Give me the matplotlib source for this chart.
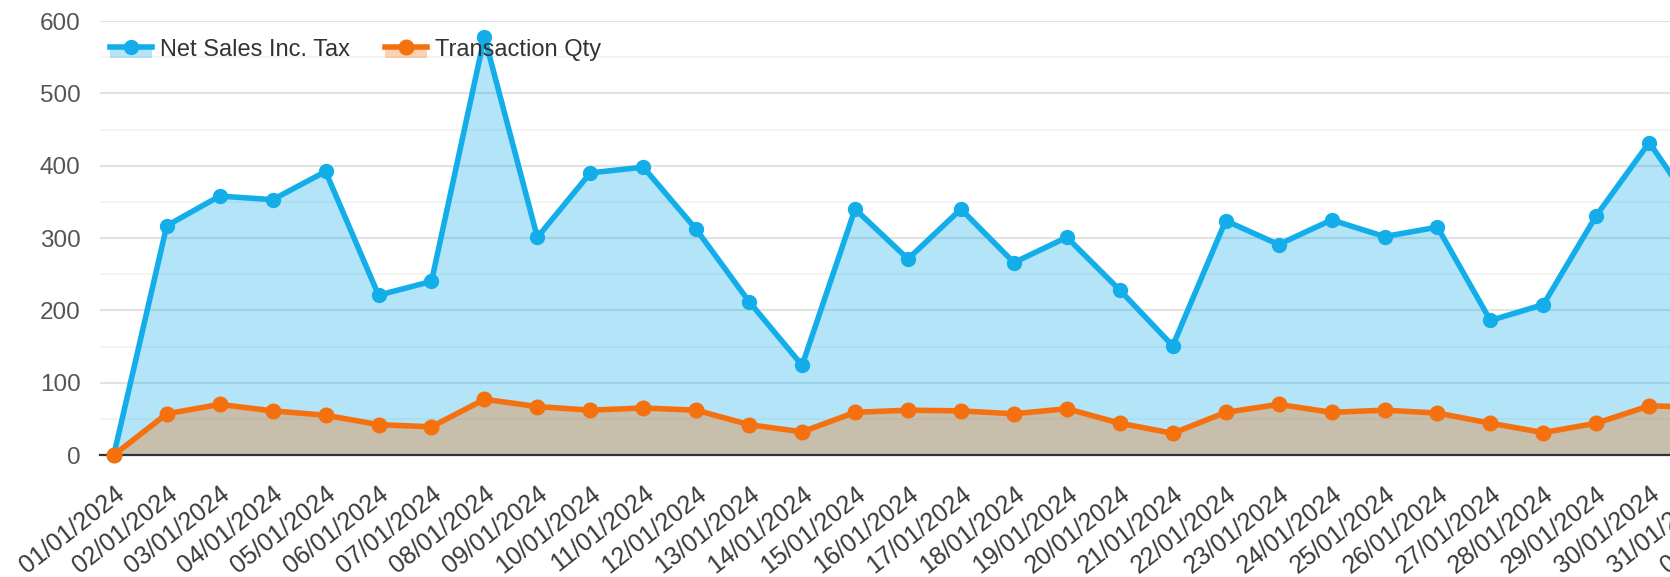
import matplotlib
matplotlib.use("Agg")
import matplotlib.pyplot as plt
import matplotlib.patches as mpatches
from matplotlib.lines import Line2D
from matplotlib.legend_handler import HandlerPatch
from matplotlib.ticker import MultipleLocator

plt.rcParams['font.family'] = ['Liberation Sans', 'DejaVu Sans']

# day labels on the x axis (01/02 only shows as a tick at the right edge)
dates = ['%02d/01/2024' % d for d in range(1, 32)] + ['01/02/2024']

net_sales = [0, 317, 358, 353, 392, 221, 240, 578, 301, 390,
             398, 312, 212, 124, 340, 271, 340, 266, 301, 228,
             151, 324, 291, 325, 302, 315, 186, 208, 331, 432,
             325]
transactions = [0, 57, 70, 61, 55, 42, 39, 77, 67, 62,
                65, 62, 42, 32, 59, 62, 61, 57, 64, 44,
                30, 59, 70, 59, 62, 58, 44, 31, 44, 68,
                66]

BLUE = '#13aee9'
ORANGE = '#f5700f'

fig = plt.figure(figsize=(16.7, 5.77), dpi=100)
# axes run past the right edge of the figure, like the cropped original
ax = fig.add_axes([0.0599, 0.2114, 1.0006, 0.7522])

xs = list(range(len(net_sales)))
ax.fill_between(xs, net_sales, 0, color=BLUE, alpha=0.32, lw=0, zorder=2)
ax.fill_between(xs, transactions, 0, color=ORANGE, alpha=0.32, lw=0, zorder=3)
ax.plot(xs, net_sales, color=BLUE, lw=4.0, marker='o', ms=10,
        zorder=4, clip_on=False)
ax.plot(xs, transactions, color=ORANGE, lw=4.0, marker='o', ms=10.5,
        zorder=5, clip_on=False)

ax.set_xlim(-0.26, 31.3)
ax.set_ylim(0, 600)
ax.yaxis.set_major_locator(MultipleLocator(100))
ax.yaxis.set_minor_locator(MultipleLocator(50))
ax.grid(axis='y', which='major', color='#e2e2e2', lw=1.5, zorder=0)
ax.grid(axis='y', which='minor', color='#f2f2f2', lw=1.2, zorder=0)
ax.set_axisbelow(True)

ax.set_xticks(range(len(dates)))
ax.set_xticklabels(dates, rotation=38, ha='right', va='top',
                   rotation_mode='anchor', fontsize=18, color='#3a3a3a')
ax.tick_params(axis='x', length=0, pad=19)
ax.tick_params(axis='y', which='both', length=0, pad=14,
               labelsize=17.5, labelcolor='#555555')

for side in ['top', 'right', 'left']:
    ax.spines[side].set_visible(False)
ax.spines['bottom'].set_color('#333333')
ax.spines['bottom'].set_linewidth(1.6)
ax.spines['bottom'].set_zorder(3.5)


def half_patch(legend, orig_handle, xdescent, ydescent, width, height, fontsize):
    return mpatches.Rectangle((-xdescent, -ydescent - 0.15 * height), width, 0.65 * height)


blue_patch = mpatches.Patch(facecolor=BLUE, alpha=0.32, lw=0)
orange_patch = mpatches.Patch(facecolor=ORANGE, alpha=0.32, lw=0)
blue_line = Line2D([], [], color=BLUE, lw=4.0, marker='o', ms=10)
orange_line = Line2D([], [], color=ORANGE, lw=4.0, marker='o', ms=10.5)

fig.legend([(blue_patch, blue_line), (orange_patch, orange_line)],
           ['Net Sales Inc. Tax', 'Transaction Qty'],
           handler_map={blue_patch: HandlerPatch(patch_func=half_patch),
                        orange_patch: HandlerPatch(patch_func=half_patch)},
           loc='center left', bbox_to_anchor=(0.059, 0.914), ncol=2,
           frameon=False, fontsize=17, numpoints=1, handlelength=1.75,
           handletextpad=0.35, columnspacing=1.5, borderpad=0,
           labelcolor='#333333')

fig.savefig('out.png', dpi=100)
